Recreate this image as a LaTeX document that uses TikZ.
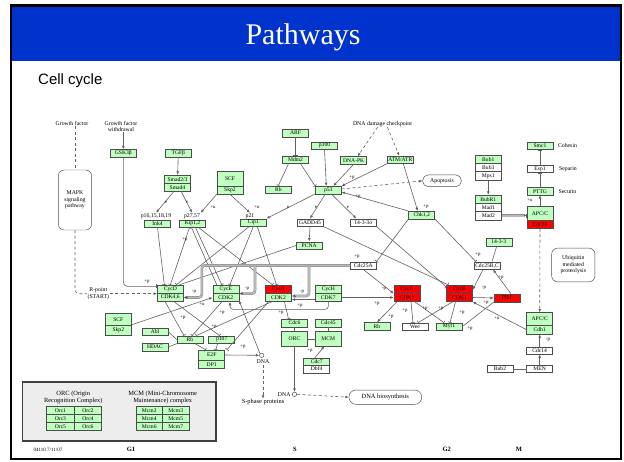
\documentclass[tikz,border=0pt]{standalone}
\usepackage{fontspec}
\setmainfont{Liberation Serif}
\newfontfamily\arialf{Liberation Sans}
\usetikzlibrary{arrows.meta,shapes.geometric}
\definecolor{kgreen}{RGB}{191,255,191}
\definecolor{kred}{RGB}{255,0,0}
\definecolor{slideblue}{RGB}{0,51,204}
\newcommand\kbf{\fontsize{5.6}{5.9}\selectfont}
\newcommand\klf{\fontsize{4.8}{5}\selectfont}
\newcommand\ktf{\fontsize{5.8}{6.4}\selectfont}
\begin{document}
\begin{tikzpicture}[x=1pt,y=-1pt,
  box/.style={draw=black!70, line width=0.45pt, minimum width=26pt, minimum height=7.5pt, inner sep=0pt, font=\kbf},
  gb/.style={box, fill=kgreen},
  wb/.style={box, fill=white},
  rb/.style={box, fill=kred},
  rh/.style={minimum height=8.3pt},
  rbox/.style={draw=black!70, line width=0.45pt, fill=white, inner sep=0pt, font=\ktf, align=center},
  txt/.style={font=\ktf, inner sep=0.5pt, align=center},
  lbl/.style={font=\klf, inner sep=0.2pt},
  ln/.style={draw=black!62, line width=0.6pt},
  arr/.style={ln, -{Latex[length=3.4pt,width=2.8pt]}},
  inh/.style={ln, -{Bar[width=4.2pt]}},
  dsh/.style={ln, dash pattern=on 3pt off 2.5pt},
  darr/.style={dsh, -{Latex[length=3.4pt,width=2.8pt]}},
  gband/.style={draw=black!45, double=black!28, double distance=1.6pt, line width=0.5pt}
]
\path[use as bounding box] (0,0) rectangle (624,461);
\fill[white] (0,0) rectangle (624,461);
\fill[slideblue] (11,6) rectangle (621,61);
\draw[black, line width=2.2pt] (11,5.5) rectangle (621,459);
\node[text=white, font=\fontsize{30}{30}\selectfont, anchor=base, inner sep=0] (title) at (303,44) {Pathways};
\node[font=\arialf\fontsize{15}{15}\selectfont, anchor=base west, inner sep=0] (sub) at (38,84) {Cell cycle};

% ---------- free texts and big boxes
\node[txt] (gf) at (72,123.3) {Growth factor};
\node[txt] (gfw) at (121,126.3) {Growth factor\\withdrawal};
\node[rbox, minimum width=33.3pt, minimum height=60pt, rounded corners=6pt] (mapk) at (75,200) {MAPK\\signaling\\pathway};
\node[txt] (rp) at (98.3,293.7) {R-point\\(START)};
\node[txt] (ddc) at (382.5,124) {DNA damage checkpoint};
\node[rbox, minimum width=38.7pt, minimum height=11.7pt, rounded corners=5.5pt] (apop) at (442,180.8) {Apoptosis};
\node[rbox, minimum width=43.3pt, minimum height=33.7pt, rounded corners=6pt] (ubq) at (573.3,265) {Ubiquitin\\mediated\\proteolysis};
\node[rbox, minimum width=72.7pt, minimum height=14.3pt, rounded corners=7pt, font=\fontsize{6.4}{6.7}\selectfont] (dnab) at (385.3,397.2) {DNA biosynthesis};

% ---------- upper left
\node[gb] (gsk) at (123.3,153.3) {GSK3β};
\node[gb] (tgf) at (178.3,153.3) {TGFβ};
\node[gb, rh] (smad23) at (177.5,179.2) {Smad2/3};
\node[gb, rh] (smad4) at (177.5,187.5) {Smad4};
\node[gb, minimum height=14.3pt] (scfa) at (230,178.8) {SCF};
\node[gb, minimum height=8pt] (skp2a) at (230,190) {Skp2};
\node[txt] (p16l) at (156,216) {p16,15,18,19};
\node[txt] (p27l) at (192,216) {p27,57};
\node[txt] (p21l) at (250,216) {p21};
\node[gb] (ink4) at (157.5,223.5) {Ink4};
\node[gb] (kip) at (192.5,223.5) {Kip1,2};
\node[gb] (cip) at (253.3,222.5) {Cip1};

% ---------- p53 region
\node[gb] (arf) at (295.5,133) {ARF};
\node[gb] (mdm2) at (295.5,159.7) {Mdm2};
\node[gb] (rbt) at (278.3,189.7) {Rb};
\node[gb] (p300) at (324.5,145.5) {p300};
\node[gb] (p53) at (328.3,190) {p53};
\node[gb] (dnapk) at (353.7,160.3) {DNA-PK};
\node[gb] (atm) at (400.3,159.7) {ATM/ATR};
\node[gb] (chk) at (421.7,215) {Chk1,2};
\node[wb] (gadd) at (310,222.5) {GADD45};
\node[wb] (sig) at (363.3,222.5) {14-3-3σ};
\node[gb] (pcna) at (309.2,245.5) {PCNA};
\node[wb] (c25a) at (363.3,265.5) {Cdc25A};
\node[gb] (f1433) at (498.8,242) {14-3-3};
\node[wb] (c25bc) at (487,265.5) {Cdc25B,C};

% ---------- cyclin / CDK complexes
\node[gb, rh] (cycd) at (170.3,289.2) {CycD};
\node[gb, rh] (cdk46) at (170.3,297.5) {CDK4,6};
\node[gb, rh] (cyce) at (225.8,289.2) {CycE};
\node[gb, rh] (cdk2e) at (225.8,297.5) {CDK2};
\node[rb, rh] (cyca) at (278.5,289.2) {CycA};
\node[gb, rh] (cdk2a) at (278.5,297.5) {CDK2};
\node[gb, rh] (cych) at (328.3,289.2) {CycH};
\node[gb, rh] (cdk7) at (328.3,297.5) {CDK7};
\node[rb, rh] (cyca1) at (407,289.2) {CycA};
\node[rb, rh] (cdk1a) at (407,297.5) {CDK1};
\node[rb, rh] (cycb) at (459.5,289.2) {CycB};
\node[rb, rh] (cdk1b) at (459.5,297.5) {CDK1};
\node[rb, minimum height=7.7pt] (plk) at (507,298) {Plk1};

% ---------- right column
\node[gb] (smc1) at (540,145.8) {Smc1};
\node[txt] (cohl) at (567.5,145.8) {Cohesin};
\node[wb] (esp1) at (540,168.8) {Esp1};
\node[txt] (sepl) at (568,168.8) {Separin};
\node[gb] (pttg) at (540,191.2) {PTTG};
\node[txt] (secl) at (567.5,191.2) {Securin};
\node[gb, minimum height=13.3pt] (apca) at (540,213.35) {APC/C};
\node[rb, rh] (cdc20) at (540,224.15) {Cdc20};
\node[gb, rh] (bub1) at (488.3,159.15) {Bub1};
\node[wb, rh] (bub3) at (488.3,167.45) {Bub3};
\node[wb, rh] (mps1) at (488.3,175.75) {Mps1};
\node[gb, rh] (bubr1) at (488.3,199.15) {BubR1};
\node[wb, rh] (mad1) at (488.3,207.45) {Mad1};
\node[wb, rh] (mad2) at (488.3,215.75) {Mad2};
\node[gb, minimum height=12.7pt] (apcb) at (539.7,319) {APC/C};
\node[gb, minimum height=8.7pt] (cdh1) at (539.7,329.7) {Cdh1};
\node[wb] (cdc14) at (539.7,350.5) {Cdc14};
\node[wb] (men) at (539.7,368.8) {MEN};
\node[wb] (bub2) at (500,368.8) {Bub2};
\node[gb] (rbm) at (377,326.3) {Rb};
\node[wb] (wee) at (415,326.7) {Wee};
\node[gb] (myt) at (449,326.7) {Myt1};

% ---------- replication
\node[gb] (cdc6) at (294.5,323) {Cdc6};
\node[gb] (cdc45) at (328.3,323) {Cdc45};
\node[gb, minimum height=14.3pt] (orc) at (294.5,338.8) {ORC};
\node[gb, minimum height=14.3pt] (mcm) at (328.3,338.8) {MCM};
\node[gb, minimum height=6.9pt] (cdc7) at (316.7,361.7) {Cdc7};
\node[wb, minimum height=7.6pt] (dbf4) at (316.7,368.95) {Dbf4};
\node[circle, draw=black!70, fill=white, line width=0.5pt, inner sep=0pt, minimum size=4.4pt] (dnac2) at (294.5,394.3) {};
\node[txt, anchor=east] (dnat2) at (291.2,394.3) {DNA};

% ---------- lower left
\node[gb, minimum height=11.7pt] (scfb) at (118.3,319.2) {SCF};
\node[gb, minimum height=10pt] (skp2b) at (118.3,330) {Skp2};
\node[gb] (abl) at (155,331.7) {Abl};
\node[gb] (hdac) at (155,347) {HDAC};
\node[gb] (rbl) at (190,339.7) {Rb};
\node[gb] (p107) at (221.7,339.7) {p107};
\node[gb, minimum height=10pt] (e2f) at (211.7,355) {E2F};
\node[gb, rh] (dp1) at (211.7,364.2) {DP1};
\node[circle, draw=black!70, fill=white, line width=0.5pt, inner sep=0pt, minimum size=4.4pt] (dnac) at (261.7,355.3) {};
\node[txt] (dnat) at (263,361.9) {DNA};
\node[txt, font=\fontsize{6.4}{6.7}\selectfont] (sph) at (263,402.3) {S-phase proteins};

% ---------- legend
\node[draw=black!75, line width=1.3pt, fill=black!7, minimum width=193.3pt, minimum height=59pt, inner sep=0pt] (leg) at (119.35,411.5) {};
\node[txt, font=\fontsize{6.4}{6.8}\selectfont] (orcl) at (73.3,397.5) {ORC (Origin\\Recognition Complex)};
\node[txt, font=\fontsize{6.4}{6.8}\selectfont] (mcml) at (162.7,397.5) {MCM (Mini-Chromosome\\Maintenance) complex};
\tikzset{lg/.style={gb, minimum width=27.5pt, minimum height=8pt, font=\fontsize{5.6}{5.8}\selectfont},
         lm/.style={gb, minimum width=26.5pt, minimum height=8pt, font=\fontsize{5.6}{5.8}\selectfont}}
\node[lg] (o1) at (60.45,410.7) {Orc1};
\node[lg] (o2) at (87.95,410.7) {Orc2};
\node[lg] (o3) at (60.45,418.7) {Orc3};
\node[lg] (o4) at (87.95,418.7) {Orc4};
\node[lg] (o5) at (60.45,426.7) {Orc5};
\node[lg] (o6) at (87.95,426.7) {Orc6};
\node[lm] (m2) at (149.25,410.7) {Mcm2};
\node[lm] (m3) at (175.75,410.7) {Mcm3};
\node[lm] (m4) at (149.25,418.7) {Mcm4};
\node[lm] (m5) at (175.75,418.7) {Mcm5};
\node[lm] (m6) at (149.25,426.7) {Mcm6};
\node[lm] (m7) at (175.75,426.7) {Mcm7};

% ---------- footer
\node[font=\fontsize{5}{5}\selectfont, inner sep=0] (code) at (48,450) {04110 7/11/07};
\node[font=\bfseries\fontsize{6.5}{6.5}\selectfont, inner sep=0] (g1) at (131,449.5) {G1};
\node[font=\bfseries\fontsize{6.5}{6.5}\selectfont, inner sep=0] (sp) at (295,449.5) {S};
\node[font=\bfseries\fontsize{6.5}{6.5}\selectfont, inner sep=0] (g2) at (446.7,449.5) {G2};
\node[font=\bfseries\fontsize{6.5}{6.5}\selectfont, inner sep=0] (mp) at (519,449.5) {M};

% ================= connectors
% growth factors / MAPK
\draw[dsh] (gf.south -| mapk.north) -- (mapk.north);
\draw[dsh, rounded corners=4pt] (mapk.south) |- (rp.west);
\draw[darr] (rp.east) -- (rp.east -| cdk46.west);
\draw[arr] (gfw.south -| gsk.north) -- (gsk.north);
\draw[inh, rounded corners=4pt] (gsk.south) |- ([yshift=-1.5pt]cycd.north west);
\node[lbl] (l1) at (147,282) {+p};
% TGF / Smad / SCF
\draw[arr] (tgf) -- (smad23);
\draw[arr] ([xshift=-4pt]smad4.south) -- (p16l.north);
\draw[arr] ([xshift=4pt]smad4.south) -- (p27l.north);
\node[lbl] (l2) at (166,202) {e};
\node[lbl] (l3) at (187,202) {e};
\draw[arr] (skp2a.south west) -- (p27l.north east);
\draw[arr] (skp2a.south) -- (p21l.north);
\node[lbl] (l4) at (213,207) {+u};
\node[lbl] (l5) at (257,207) {+u};
% CKIs
\draw[inh] (ink4.south) -- ([xshift=-6pt]cycd.north);
\draw[inh] ([xshift=-3pt]kip.south) -- (cycd.north);
\draw[inh] ([xshift=3pt]kip.south) -- ([xshift=-4pt]cyce.north);
\draw[inh] ([xshift=6pt]kip.south) -- ([xshift=-6pt]cyca.north);
\draw[inh] ([xshift=-4pt]cip.south) -- ([xshift=6pt]cycd.north);
\draw[inh] (cip.south) -- ([xshift=4pt]cyce.north);
\draw[inh] ([xshift=4pt]cip.south) -- ([xshift=-2pt]cyca.north);
\draw[inh] ([xshift=-9pt]cyce.north) -- ([xshift=-1pt]kip.south);
\node[lbl] (l6) at (185,240) {+p};
\draw[ln] (pcna.west) -- ([xshift=9pt]cycd.north);
% p53 module
\draw[inh] (arf) -- (mdm2);
\draw[inh] ([xshift=-7pt]mdm2.south) -- (rbt.north);
\draw[inh] ([xshift=5pt]mdm2.south) -- (p53.north west);
\draw[arr] (p300.south) -- ([xshift=-2pt]p53.north);
\draw[darr] ([xshift=-5pt]ddc.south) -- ([xshift=4pt]dnapk.north);
\draw[darr] ([xshift=5pt]ddc.south) -- ([xshift=-1pt]atm.north);
\draw[arr] (dnapk.south) -- ([xshift=5pt]p53.north);
\draw[arr] (atm.south west) -- (p53.north east);
\node[lbl] (l7) at (352,178) {+p};
\draw[arr] (chk.north west) -- ([yshift=-2pt]p53.east);
\node[lbl] (l8) at (358,197) {+p};
\draw[arr] ([xshift=3pt]atm.south) -- ([xshift=-4pt]chk.north);
\node[lbl] (l9) at (426,207) {+p};
\draw[darr] ([yshift=1pt]p53.east) -- (apop.west);
\draw[arr] (p53.south west) -- (cip.north east);
\draw[arr] ([xshift=-3pt]p53.south) -- (gadd.north);
\draw[arr] ([xshift=3pt]p53.south) -- ([xshift=-7pt]sig.north);
\node[lbl] (l10) at (288,207) {e};
\node[lbl] (l11) at (316,207) {e};
\node[lbl] (l12) at (348,207) {e};
\draw[arr] (gadd.south) -- (pcna.north);
\draw[inh] (gadd.south east) -- ([xshift=2pt]cycb.north west);
\draw[inh] (sig.south east) -- ([yshift=-2pt]cycb.north west);
\draw[inh] (chk.south west) -- (c25a.north east);
\node[lbl] (l13) at (357,257) {+p};
\draw[inh] (chk.south east) -- ([xshift=2pt]c25bc.north west);
\node[lbl] (l14) at (478,255) {+p};
% G2/M
\draw[ln] ([xshift=-2pt]f1433.south) -- ([xshift=5pt]c25bc.north);
\draw[arr] ([xshift=-4pt]c25bc.south) -- ([yshift=-0.5pt]cycb.east);
\node[lbl] (l15) at (484,288) {-p};
\draw[arr] ([xshift=4pt]plk.north) -- ([xshift=6pt]c25bc.south);
\node[lbl] (l16) at (501,278) {+p};
\draw[arr] (cdk1b.east) -- (plk.west);
\node[lbl] (l17) at (486,303) {+p};
\draw[arr] (c25a.south) -- (cyca1.south west);
\node[lbl] (l18) at (384,288.5) {-p};
\draw[arr] (cdk7.east) -- (cdk1a.west);
\node[lbl] (l19) at (377,304) {+p};
% gray Cdc25A bands
\coordinate (gD) at (201.8,265.5);
\coordinate (gE) at (255,265.5);
\coordinate (gA) at (309,265.5);
\draw[gband, rounded corners=3pt] (c25a.west) -- (gD) -- (gD |- cdk46.east) -- ([xshift=2pt]cdk46.east);
\draw[gband, rounded corners=3pt] (gE) -- (gE |- cyce.south east) -- ([xshift=2pt]cyce.south east);
\draw[gband, rounded corners=3pt] (gA) -- ([yshift=1.5pt]gA |- cdk2a.east) -- ([xshift=2pt,yshift=1.5pt]cdk2a.east);
\draw[arr] ([xshift=4pt]cdk46.east) -- (cdk46.east);
\draw[arr] ([xshift=4pt]cyce.south east) -- (cyce.south east);
\draw[arr] ([xshift=4pt,yshift=1.5pt]cdk2a.east) -- ([yshift=1.5pt]cdk2a.east);
\node[lbl] (l20) at (194,292) {-p};
\node[lbl] (l21) at (247,289) {-p};
\node[lbl] (l22) at (302,292) {-p};
\draw[arr] ([yshift=-2pt]cdk7.west) -- ([yshift=-2pt]cdk2a.east);
\node[lbl] (l23) at (300,306) {+p};
\coordinate (hE) at (230,309.3);
\draw[arr, rounded corners=3pt] (cdk7.south) |- (hE) -- (hE |- cdk2e.south);
\node[lbl] (l24) at (222,313) {+p};
\draw[arr] (dnac.north west) -- ([yshift=-3pt]cdk2e.east);
% replication
\draw[inh] ([xshift=6pt]cdk2a.south) -- ([xshift=-6pt]cdc6.north);
\node[lbl] (l25) at (281,313) {+p};
\draw[ln] (cdc6) -- (orc);
\draw[ln] (orc) -- (mcm);
\draw[ln] (cdc45) -- (mcm);
\draw[arr] ([xshift=-2pt]cdc7.north) -- ([xshift=-4pt]mcm.south);
\node[lbl] (l26) at (310,351) {+p};
\draw[arr] (orc.south) -- (dnac2.north);
\draw[darr] (dnac2.east) -- (dnab.west);
% E2F / Rb
\draw[arr] (e2f.east) -- (dnac.west);
\node[lbl] (l27) at (243,347) {+p};
\draw[darr] (dnat.south) -- (sph.north);
\draw[inh] ([xshift=3pt]cdk2a.south west) -- ([xshift=2pt]e2f.north east);
\draw[inh] ([xshift=-5pt]cdk46.south) -- ([xshift=-6pt]rbl.north);
\draw[inh] ([xshift=4pt]cdk46.south) -- ([xshift=-2pt]p107.north);
\draw[inh] ([xshift=-4pt]cdk2e.south) -- ([xshift=2pt]rbl.north);
\draw[inh] ([xshift=-7pt]cdk2a.south) -- ([xshift=6pt]rbl.north);
\node[lbl] (l28) at (183,318) {+p};
\node[lbl] (l29) at (214,327) {+p};
\draw[inh] ([xshift=5pt]rbl.south) -- ([xshift=-6pt]e2f.north);
\draw[inh] ([xshift=-4pt]p107.south) -- ([xshift=4pt]e2f.north);
\draw[ln] (abl.east) -- (rbl.west);
\draw[ln] (hdac.east) -- (rbl.south west);
\draw[arr] (skp2b.north east) -- (cdk2e.west);
\node[lbl] (l30) at (202,304) {+u};
% CycA/CDK1, CycB/CDK1
\draw[arr] ([xshift=3pt]cdk1a.south west) -- (rbm.north);
\node[lbl] (l31) at (391,317) {+p};
\draw[inh] ([xshift=4pt]cdk1a.south) -- ([xshift=-2pt]wee.north);
\draw[inh] ([xshift=8pt]cdk1a.south) -- ([xshift=-5pt]myt.north);
\draw[inh] ([xshift=-7pt]cdk1b.south) -- ([xshift=3pt]wee.north);
\draw[inh] ([xshift=-4pt]cdk1b.south) -- ([xshift=1pt]myt.north);
\node[lbl] (l32) at (405,311) {+p};
\node[lbl] (l33) at (425,309) {+p};
\node[lbl] (l34) at (441,309) {+p};
\node[lbl] (l35) at (462,313) {+p};
\draw[ln] (plk.south west) -- (myt.east);
\node[lbl] (l36) at (470,329) {+p};
\draw[arr] (cdh1.west) -- (cdk1b.south east);
\node[lbl] (l37) at (497,318) {+u};
% spindle checkpoint / APC
\draw[darr] (cdc20.south) -- (apcb.north);
\draw[arr] (apca.north) -- (pttg.south);
\node[lbl] (l38) at (530,200) {+u};
\draw[inh] (pttg.north) -- (esp1.south);
\draw[inh] (esp1.north) -- (smc1.south);
\draw[arr] (mps1.south) -- (bubr1.north);
\draw[gband] (mad2.east) -- ([xshift=-2pt]mad2.east -| apca.west);
\draw[inh] ([xshift=-3pt]mad2.east -| apca.west) -- (mad2.east -| apca.west);
\draw[arr] (cdc14.north) -- (cdh1.south);
\node[lbl] (l39) at (548,340) {-p};
\draw[arr] (men.north) -- (cdc14.south);
\draw[inh] (bub2.east) -- (men.west);
\end{tikzpicture}
\end{document}
